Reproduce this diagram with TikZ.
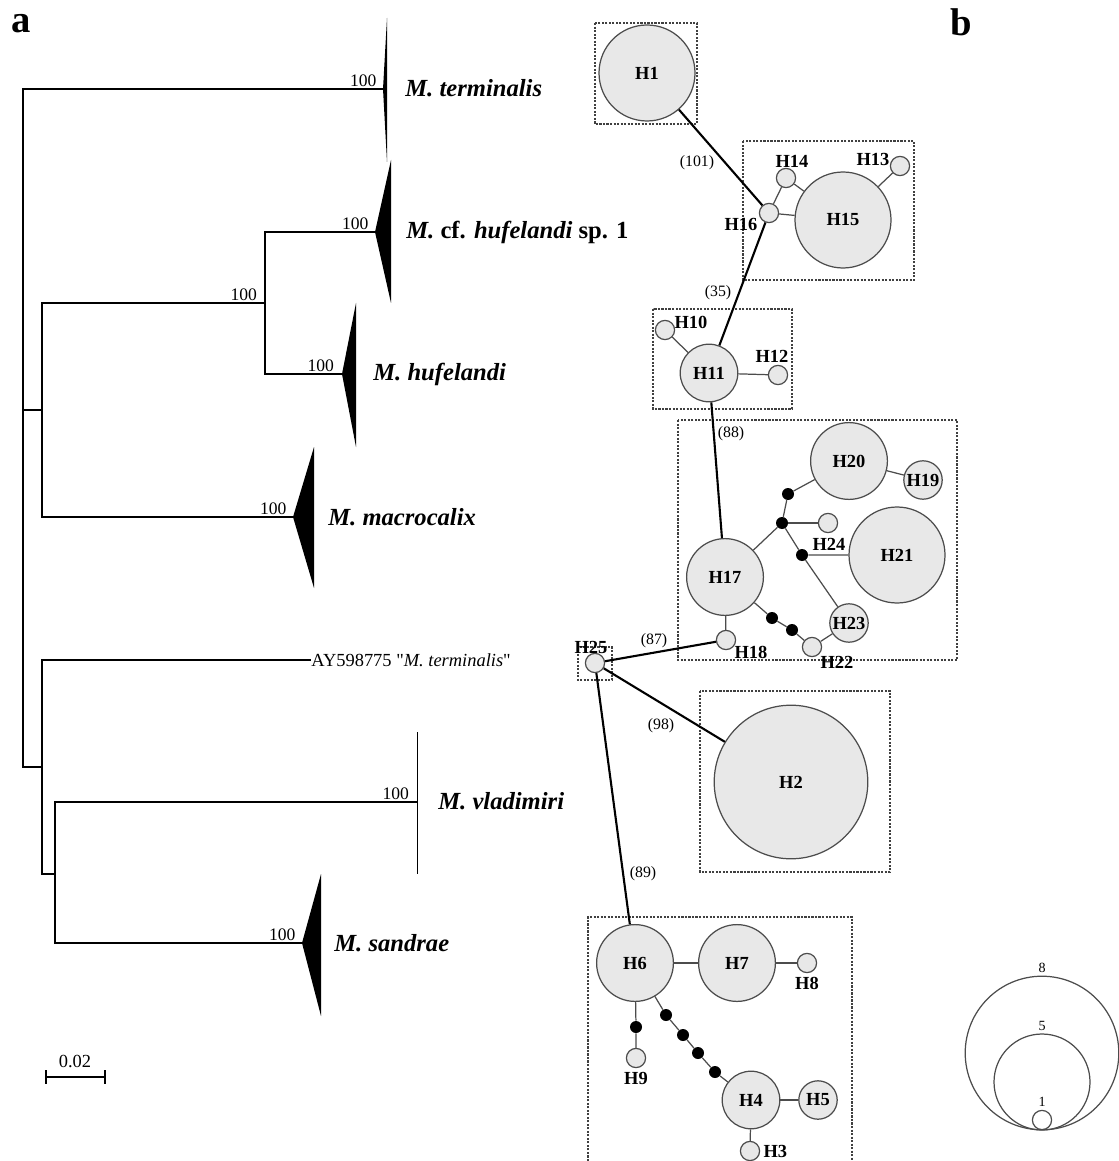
\documentclass[tikz,border=0pt]{standalone}
\usepackage{fontspec}
\setmainfont{Liberation Serif}
\usepackage{tikz}
\usetikzlibrary{positioning}

\definecolor{hapfill}{gray}{0.91}
\definecolor{hapline}{gray}{0.3}

\newcommand{\hapfont}{\fontsize{10.5pt}{12pt}\selectfont\bfseries}
\newcommand{\taxfont}{\fontsize{14pt}{16pt}\selectfont\bfseries\itshape}
\newcommand{\bsfont}{\fontsize{10pt}{12pt}\selectfont}
\newcommand{\stepfont}{\fontsize{9pt}{11pt}\selectfont}

\tikzset{
  hap/.style={circle, draw=hapline, fill=hapfill, line width=0.7pt, inner sep=0pt,
    minimum size=#1*3.84mm, font=\hapfont},
  mut/.style={circle, fill=black, inner sep=0pt, minimum size=2.4mm},
  legcirc/.style={circle, draw=hapline, line width=0.7pt, inner sep=0pt, minimum size=#1*3.84mm},
  hlab/.style={inner sep=0pt, font=\hapfont},
  elab/.style={inner sep=0pt, font=\stepfont},
  mainlink/.style={line width=1.2pt, black},
  sidelink/.style={line width=0.7pt, hapline},
  grp/.style={draw=black!75, dash pattern=on 1.2pt off 0.8pt, line width=0.6pt},
  branch/.style={line width=1.1pt, black},
  taxon/.style={anchor=west, inner sep=0pt, font=\taxfont},
  bs/.style={inner sep=1pt, font=\bsfont},
}

\begin{document}
\begin{tikzpicture}[x=0.2mm, y=-0.2mm]
    \useasboundingbox (0,0) rectangle (1118,1161);

    \node[font=\fontsize{22pt}{24pt}\selectfont\bfseries] (pa) at (21,24) {a};
    \node[font=\fontsize{22pt}{24pt}\selectfont\bfseries] (pb) at (961,22) {b};

    % tree
    \coordinate (root) at (23,410);
    \coordinate (tT) at (383,89);
    \coordinate (nH) at (42,410);
    \coordinate (nH2) at (265,303);
    \coordinate (tC) at (375,232);
    \coordinate (tHu) at (342,374);
    \coordinate (tMa) at (293,517);
    \coordinate (nL) at (42,767);
    \coordinate (tAY) at (311,660);
    \coordinate (nV) at (55,874);
    \coordinate (tVl) at (417,802);
    \coordinate (tSa) at (302,943);

    \draw[branch] (root) |- (tT);
    \draw[branch] (root) |- (nL);
    \draw[branch] (root) -- (nH);
    \draw[branch] (nH) |- (nH2);
    \draw[branch] (nH) |- (tMa);
    \draw[branch] (nH2) |- (tC);
    \draw[branch] (nH2) |- (tHu);
    \draw[branch] (nL) |- (tAY);
    \draw[branch] (nL) |- (nV);
    \draw[branch] (nV) |- (tVl);
    \draw[branch] (nV) |- (tSa);

    \fill (tT) -- ++(4,-71) -- ++(0,144) -- cycle;
    \fill (tC) -- ++(16,-72) -- ++(0,143) -- cycle;
    \fill (tHu) -- ++(14,-71) -- ++(0,144) -- cycle;
    \fill (tMa) -- ++(21,-70) -- ++(0,141) -- cycle;
    \fill (tSa) -- ++(19,-69) -- ++(0,142) -- cycle;
    \draw[line width=0.5pt] (tVl) ++(0,-70) -- ++(0,142);

    \node[bs, above left=0pt and 0.9mm of tT] (bT) {100};
    \node[bs, above left=0pt and 0.9mm of tC] (bC) {100};
    \node[bs, above left=0pt and 1.2mm of nH2] (bH2) {100};
    \node[bs, above left=0pt and 1.2mm of tHu] (bHu) {100};
    \node[bs, above left=0pt and 0.9mm of tMa] (bMa) {100};
    \node[bs, above left=0pt and 1.2mm of tVl] (bVl) {100};
    \node[bs, above left=0pt and 0.9mm of tSa] (bSa) {100};

    \node[taxon] (lT) at (405,88) {M. terminalis};
    \node[taxon] (lC) at (406,232) {M. {\upshape cf.} hufelandi {\upshape sp. 1}};
    \node[taxon] (lHu) at (373,374) {M. hufelandi};
    \node[taxon] (lMa) at (328,517) {M. macrocalix};
    \node[anchor=west, inner sep=0pt, font=\fontsize{10.5pt}{12pt}\selectfont] (lAY) at (tAY) {AY598775 \textquotedbl\textit{M. terminalis}\textquotedbl};
    \node[taxon] (lVl) at (438,801) {M. vladimiri};
    \node[taxon] (lSa) at (334,943) {M. sandrae};

    \coordinate (sbl) at (45,1077);
    \coordinate (sbr) at (106,1077);
    \draw[branch, line width=1pt, |-|] (sbl) -- (sbr);
    \node[font=\fontsize{10.5pt}{12pt}\selectfont, inner sep=0pt] (sbt) at (75,1061) {0.02};

    % network
    \draw[grp] (595,23) rectangle (697,124);
    \draw[grp] (743,141) rectangle (914,280);
    \draw[grp] (653,309) rectangle (792,409);
    \draw[grp] (678,420) rectangle (957,660);
    \draw[grp] (578,647) rectangle (612,680);
    \draw[grp] (700,691) rectangle (890,872);
    \draw[grp] (588,1161) |- (852,917) -- (852,1161);

    \node[hap=5] (H1) at (647,73) {H1};
    \node[hap=5] (H15) at (843,220) {H15};
    \node[hap=1] (H16) at (769,213) {};
    \node[hap=1] (H14) at (786,178) {};
    \node[hap=1] (H13) at (900,166) {};
    \node[hap=3] (H11) at (709,373) {H11};
    \node[hap=1] (H10) at (665,330) {};
    \node[hap=1] (H12) at (778,375) {};
    \node[hap=4] (H17) at (725,577) {H17};
    \node[hap=4] (H20) at (849,461) {H20};
    \node[hap=2] (H19) at (923,480) {H19};
    \node[hap=5] (H21) at (897,555) {H21};
    \node[hap=2] (H23) at (849,623) {H23};
    \node[hap=1] (H22) at (812,647) {};
    \node[hap=1] (H18) at (726,640) {};
    \node[hap=1] (H24) at (828,523) {};
    \node[mut] (m1) at (788,494) {};
    \node[mut] (m2) at (782,523) {};
    \node[mut] (m3) at (802,555) {};
    \node[mut] (m4) at (772,618) {};
    \node[mut] (m5) at (792,630) {};
    \node[hap=1] (H25) at (595,663) {};
    \node[hap=8] (H2) at (791,782) {H2};
    \node[hap=4] (H6) at (635,963) {H6};
    \node[hap=4] (H7) at (737,963) {H7};
    \node[hap=1] (H8) at (807,963) {};
    \node[hap=1] (H9) at (636,1058) {};
    \node[hap=3] (H4) at (751,1100) {H4};
    \node[hap=2] (H5) at (818,1100) {H5};
    \node[hap=1] (H3) at (750,1151) {};
    \node[mut] (m6) at (636,1027) {};
    \node[mut] (m7) at (666,1015) {};
    \node[mut] (m8) at (683,1035) {};
    \node[mut] (m9) at (698,1053) {};
    \node[mut] (m10) at (715,1072) {};

    \draw[mainlink] (H1) -- (H16);
    \draw[mainlink] (H16) -- (H11);
    \draw[mainlink] (H11) -- (H17);
    \draw[mainlink] (H25) -- (H18);
    \draw[mainlink] (H25) -- (H2);
    \draw[mainlink] (H25) -- (H6);

    \draw[sidelink] (H16) -- (H14) -- (H15) -- (H16);
    \draw[sidelink] (H13) -- (H15);
    \draw[sidelink] (H10) -- (H11) -- (H12);
    \draw[sidelink] (H17) -- (m2) -- (m1) -- (H20) -- (H19);
    \draw[sidelink] (m2) -- (H24);
    \draw[sidelink] (m2) -- (m3) -- (H21);
    \draw[sidelink] (m3) -- (H23) -- (H22) -- (m5) -- (m4) -- (H17);
    \draw[sidelink] (H17) -- (H18);
    \draw[sidelink] (H6) -- (H7) -- (H8);
    \draw[sidelink] (H6) -- (m6) -- (H9);
    \draw[sidelink] (H6) -- (m7) -- (m8) -- (m9) -- (m10) -- (H4);
    \draw[sidelink] (H4) -- (H5);
    \draw[sidelink] (H4) -- (H3);

    \node[hlab] (l14) at (792,161) {H14};
    \node[hlab] (l13) at (873,159) {H13};
    \node[hlab] (l16) at (741,224) {H16};
    \node[hlab] (l10) at (691,322) {H10};
    \node[hlab] (l12) at (772,356) {H12};
    \node[hlab] (l24) at (829,544) {H24};
    \node[hlab] (l18) at (751,652) {H18};
    \node[hlab] (l22) at (837,662) {H22};
    \node[hlab] (l25) at (591,647) {H25};
    \node[hlab, below=0.8mm of H8] (l8) {H8};
    \node[hlab, below=0.8mm of H9] (l9) {H9};
    \node[hlab, right=0.6mm of H3] (l3) {H3};

    \node[elab] (e101) at (697,163) {(101)};
    \node[elab] (e35) at (718,293) {(35)};
    \node[elab] (e88) at (731,434) {(88)};
    \node[elab] (e87) at (654,641) {(87)};
    \node[elab] (e98) at (661,726) {(98)};
    \node[elab] (e89) at (643,874) {(89)};

    % legend
    \node[legcirc=8] (L8) at (1042,1053) {};
    \node[legcirc=5] (L5) at (1042,1082) {};
    \node[legcirc=1] (L1) at (1042,1120) {};
    \node[inner sep=0pt, font=\fontsize{8pt}{9pt}\selectfont, above=0.5mm of L8] (n8) {8};
    \node[inner sep=0pt, font=\fontsize{8pt}{9pt}\selectfont, above=0.5mm of L5] (n5) {5};
    \node[inner sep=0pt, font=\fontsize{8pt}{9pt}\selectfont, above=0.5mm of L1] (n1) {1};
\end{tikzpicture}
\end{document}
